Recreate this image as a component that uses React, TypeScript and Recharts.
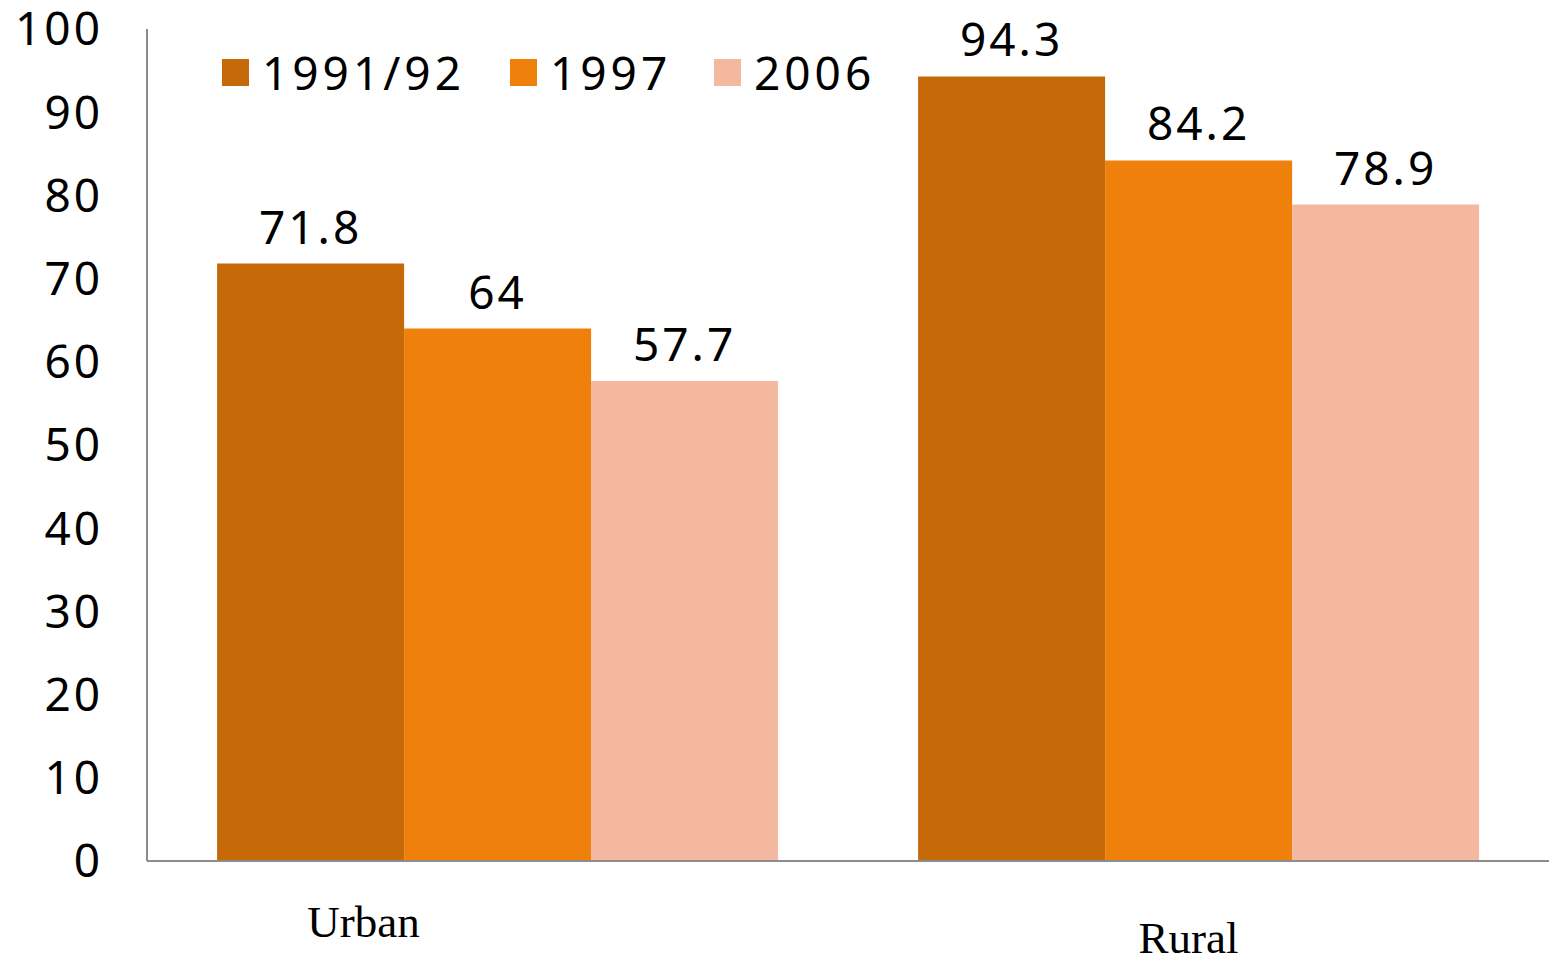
import type { JSX } from 'react';
import { Bar, BarChart, LabelList, XAxis, YAxis } from 'recharts';

const areas = ['Urban', 'Rural'];
const share1991 = [71.8, 94.3];
const share1997 = [64, 84.2];
const share2006 = [57.7, 78.9];
const yTicks = [0, 10, 20, 30, 40, 50, 60, 70, 80, 90, 100];

const series = [
  { key: 'y1991', name: '1991/92', color: '#C66908' },
  { key: 'y1997', name: '1997', color: '#EF800C' },
  { key: 'y2006', name: '2006', color: '#F4B8A0' },
];

const data = areas.map((area, i) => ({
  area,
  y1991: share1991[i],
  y1997: share1997[i],
  y2006: share2006[i],
}));

const FONT = '"Noto Sans", "Open Sans", sans-serif';
const FONT_SIZE = 46;
const SPACING = 3;

// category labels sit a little off-centre under each group
const tickShift: Record<string, { dx: number; dy: number }> = {
  Urban: { dx: -134, dy: 68 },
  Rural: { dx: -10, dy: 84 },
};

function AreaTick(props: { x?: number; y?: number; payload?: { value: string } }): JSX.Element {
  const { x = 0, y = 0, payload } = props;
  const label = payload?.value ?? '';
  const shift = tickShift[label] ?? { dx: 0, dy: 70 };
  return (
    <text
      x={x + shift.dx}
      y={y + shift.dy}
      textAnchor="middle"
      fontFamily='"Liberation Serif", "Times New Roman", serif'
      fontSize={45}
      fill="#000"
    >
      {label}
    </text>
  );
}

// legend squares start at these x positions along the top of the plot
const legendX = [222, 510, 714];

function YearLegend(): JSX.Element {
  return (
    <div style={{ position: 'absolute', left: 0, top: 0, fontFamily: FONT }}>
      {series.map((s, i) => (
        <div
          key={s.key}
          style={{ position: 'absolute', left: legendX[i], top: 44, display: 'flex', alignItems: 'center', whiteSpace: 'nowrap' }}
        >
          <span style={{ width: 27, height: 27, background: s.color, display: 'inline-block' }} />
          <span style={{ fontSize: FONT_SIZE, letterSpacing: 4, marginLeft: 13, color: '#000', lineHeight: '56px' }}>
            {s.name}
          </span>
        </div>
      ))}
    </div>
  );
}

export default function App(): JSX.Element {
  return (
    <div style={{ position: 'absolute', left: 0, top: 0, width: 1549, height: 957, background: '#fff' }}>
      <BarChart
        width={1549}
        height={957}
        data={data}
        margin={{ top: 29, right: 0, bottom: 0, left: 0 }}
        barCategoryGap="10%"
        barGap={0}
      >
        <XAxis
          dataKey="area"
          height={96}
          axisLine={{ stroke: '#8c8c8c', strokeWidth: 2 }}
          tickLine={false}
          tick={<AreaTick />}
          interval={0}
        />
        <YAxis
          width={147}
          domain={[0, 100]}
          ticks={yTicks}
          interval={0}
          axisLine={{ stroke: '#8c8c8c', strokeWidth: 2 }}
          tickLine={false}
          tickMargin={38}
          tick={{ fontSize: FONT_SIZE, fill: '#000', fontFamily: FONT, letterSpacing: SPACING }}
        />
        {series.map((s) => (
          <Bar key={s.key} dataKey={s.key} name={s.name} fill={s.color} isAnimationActive={false}>
            <LabelList
              dataKey={s.key}
              position="top"
              offset={20}
              fill="#000"
              fontSize={FONT_SIZE}
              fontFamily={FONT}
              letterSpacing={SPACING}
            />
          </Bar>
        ))}
      </BarChart>
      <YearLegend />
    </div>
  );
}
